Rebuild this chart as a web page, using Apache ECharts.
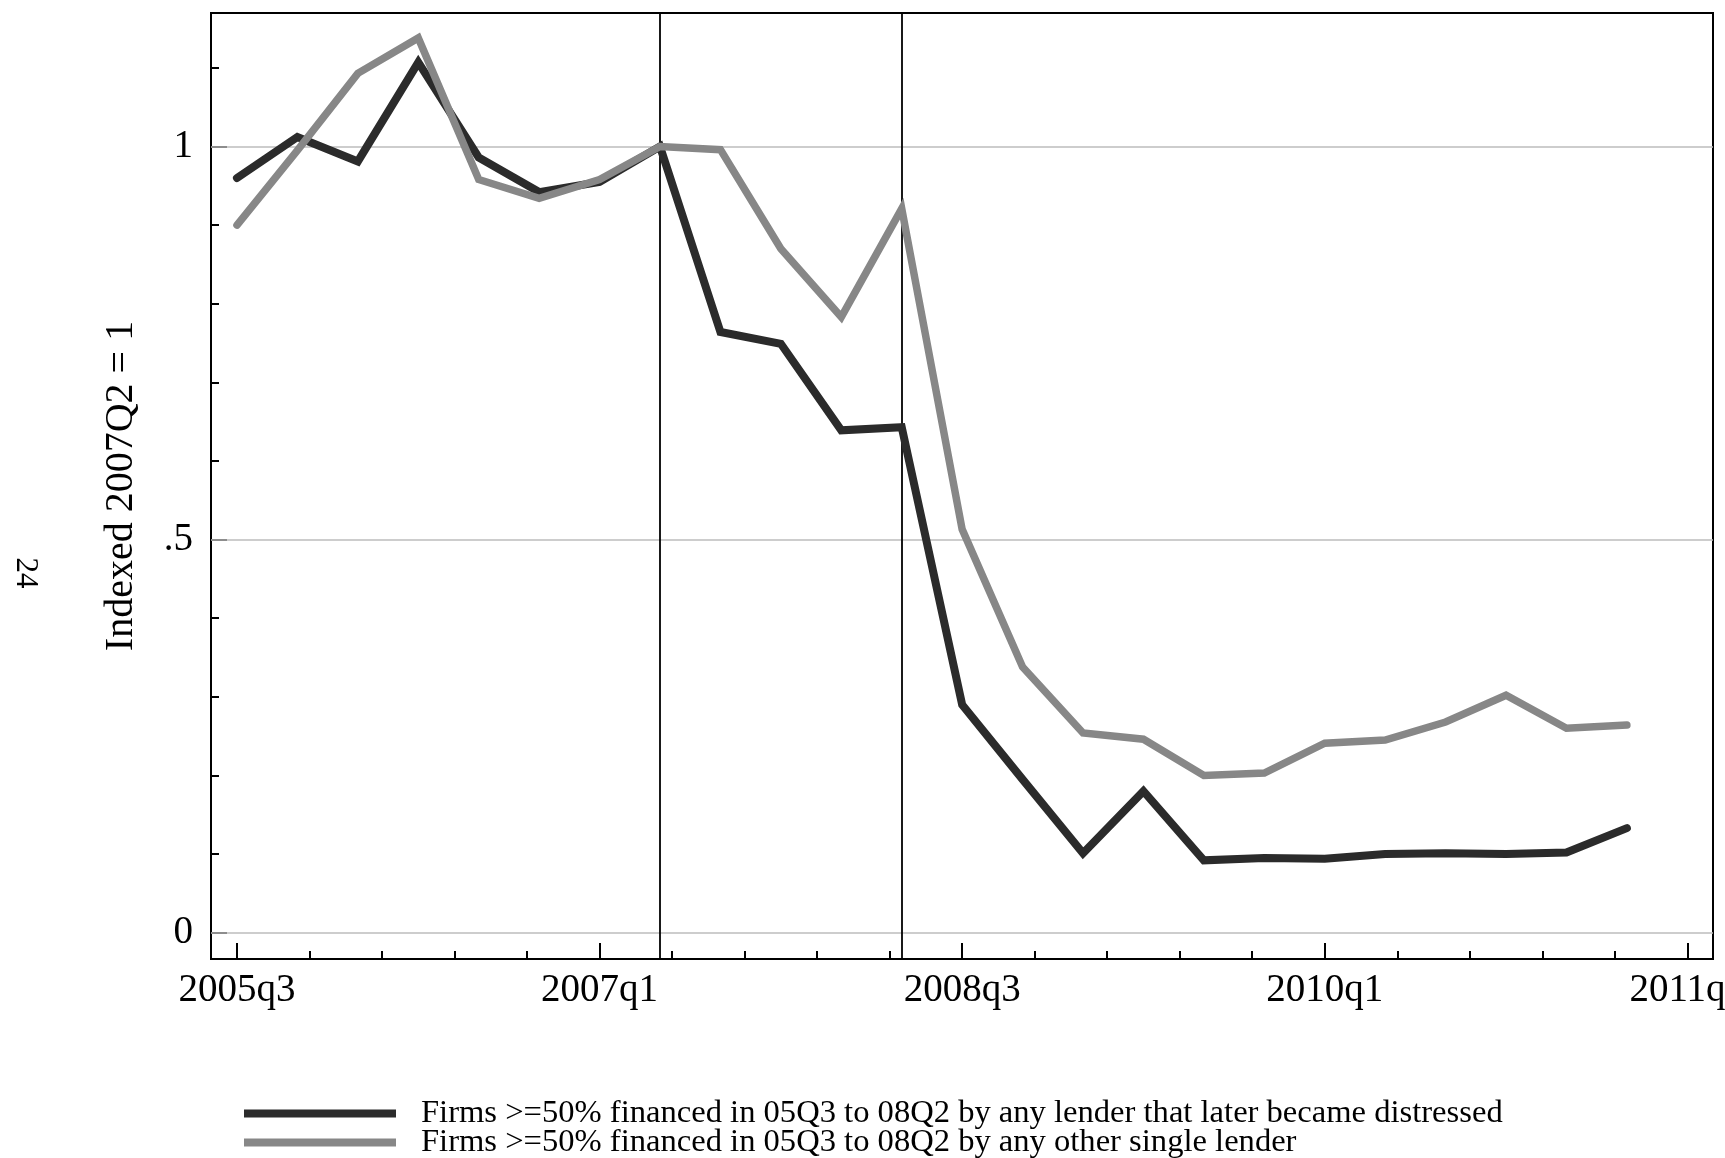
<!DOCTYPE html>
<html>
<head>
<meta charset="utf-8">
<title>Indexed 2007Q2 = 1</title>
<script src="https://cdn.jsdelivr.net/npm/echarts@6/dist/echarts.min.js"></script>
<style>
  html, body { margin: 0; padding: 0; background: #fff; }
  #chart { width: 1725px; height: 1158px; }
</style>
</head>
<body>
<div id="chart"></div>
<script>
// quarters 2005q3 .. 2011q2, one point each
const quarters = [
  '2005q3', '2005q4',
  '2006q1', '2006q2', '2006q3', '2006q4',
  '2007q1', '2007q2', '2007q3', '2007q4',
  '2008q1', '2008q2', '2008q3', '2008q4',
  '2009q1', '2009q2', '2009q3', '2009q4',
  '2010q1', '2010q2', '2010q3', '2010q4',
  '2011q1', '2011q2'
]
const distressed = [
  0.960, 1.012, 0.981, 1.107, 0.986, 0.942, 0.955, 1.000,
  0.764, 0.749, 0.639, 0.643, 0.290, 0.195, 0.101, 0.180,
  0.092, 0.095, 0.094, 0.100, 0.101, 0.100, 0.102, 0.133
]
const otherLender = [
  0.900, 0.995, 1.093, 1.138, 0.958, 0.934, 0.958, 1.000,
  0.996, 0.870, 0.783, 0.921, 0.513, 0.338, 0.254, 0.246,
  0.200, 0.203, 0.241, 0.245, 0.268, 0.302, 0.260, 0.264
]
const seriesNames = [
  'Firms >=50% financed in 05Q3 to 08Q2 by any lender that later became distressed',
  'Firms >=50% financed in 05Q3 to 08Q2 by any other single lender'
]
const eventQuarters = ['2007q2', '2008q2']

// axis ticks (x in quarters since 2005q3)
const xTickValues = [0, 6, 12, 18, 24]
const xTickLabels = ['2005q3', '2007q1', '2008q3', '2010q1', '2011q3']
const xMinorTicks = [1.2, 2.4, 3.6, 4.8, 7.2, 8.4, 9.6, 10.8, 13.2, 14.4, 15.6, 16.8, 19.2, 20.4, 21.6, 22.8]
const yTickValues = [0, 0.5, 1]
const yTickLabels = ['0', '.5', '1']
const yMinorTicks = [0.1, 0.2, 0.3, 0.4, 0.6, 0.7, 0.8, 0.9, 1.1]

const FONT = '"Liberation Serif", "Times New Roman", serif'
const X_RANGE = [-0.43, 24.425]
const Y_RANGE = [-0.0335, 1.1698]

const chart = echarts.init(document.getElementById('chart'))

const toPoints = (values) => values.map((v, i) => [i, v])

const tickStyle = { color: '#000', width: 2 }

const option = {
  animation: false,
  backgroundColor: '#fff',
  grid: {
    left: 211,
    right: 12,
    top: 13,
    bottom: 199,
    containLabel: false,
    outerBoundsMode: 'none',
    show: true,
    borderColor: '#000',
    borderWidth: 2
  },
  xAxis: [
    {
      type: 'value',
      min: X_RANGE[0],
      max: X_RANGE[1],
      position: 'bottom',
      axisLine: { show: false, onZero: false },
      splitLine: { show: false },
      axisTick: { inside: true, length: 16, customValues: xTickValues, lineStyle: tickStyle },
      axisLabel: {
        customValues: xTickValues,
        formatter: (v) => xTickLabels[xTickValues.indexOf(v)] || '',
        color: '#000',
        fontFamily: FONT,
        fontSize: 39,
        margin: 12
      }
    },
    {
      type: 'value',
      min: X_RANGE[0],
      max: X_RANGE[1],
      position: 'bottom',
      axisLine: { show: false, onZero: false },
      splitLine: { show: false },
      axisLabel: { show: false },
      axisTick: { inside: true, length: 8, customValues: xMinorTicks, lineStyle: tickStyle }
    }
  ],
  yAxis: [
    {
      type: 'value',
      min: Y_RANGE[0],
      max: Y_RANGE[1],
      position: 'left',
      name: 'Indexed 2007Q2 = 1',
      nameLocation: 'middle',
      nameGap: 70,
      nameTextStyle: { color: '#000', fontFamily: FONT, fontSize: 40 },
      axisLine: { show: false, onZero: false },
      splitLine: { show: false },
      axisTick: { inside: true, length: 16, customValues: yTickValues, lineStyle: tickStyle },
      axisLabel: {
        customValues: yTickValues,
        formatter: (v) => yTickLabels[yTickValues.indexOf(v)] || '',
        color: '#000',
        fontFamily: FONT,
        fontSize: 39,
        margin: 18
      }
    },
    {
      type: 'value',
      min: Y_RANGE[0],
      max: Y_RANGE[1],
      position: 'left',
      axisLine: { show: false, onZero: false },
      splitLine: { show: false },
      axisLabel: { show: false },
      axisTick: { inside: true, length: 8, customValues: yMinorTicks, lineStyle: tickStyle }
    }
  ],
  legend: {
    orient: 'vertical',
    left: 244,
    top: 1097,
    width: 1400,
    height: 120,
    padding: 0,
    itemWidth: 152,
    itemHeight: 8,
    itemGap: -4,
    icon: 'rect',
    data: seriesNames,
    textStyle: {
      color: '#000',
      fontFamily: FONT,
      fontSize: 32.6,
      lineHeight: 28,
      padding: [0, 0, 0, 20]
    }
  },
  graphic: [
    {
      type: 'text',
      x: 25,
      y: 573,
      rotation: -Math.PI / 2,
      style: {
        text: '24',
        fill: '#000',
        font: '31px ' + FONT,
        align: 'center',
        verticalAlign: 'middle'
      }
    }
  ],
  series: [
    {
      // grid lines and the two event lines
      type: 'line',
      data: [],
      z: 1,
      silent: true,
      markLine: {
        silent: true,
        symbol: 'none',
        label: { show: false },
        z: 1,
        data: [
          ...yTickValues.map((v) => ({ yAxis: v, lineStyle: { color: '#bdbdbd', width: 1.5, type: 'solid' } })),
          ...eventQuarters.map((q) => ({ xAxis: quarters.indexOf(q), lineStyle: { color: '#000', width: 1.8, type: 'solid' } }))
        ]
      }
    },
    {
      name: seriesNames[0],
      type: 'line',
      data: toPoints(distressed),
      showSymbol: false,
      color: '#2b2b2b',
      z: 3,
      lineStyle: { color: '#2b2b2b', width: 8, cap: 'round', join: 'miter' }
    },
    {
      name: seriesNames[1],
      type: 'line',
      data: toPoints(otherLender),
      showSymbol: false,
      color: '#878787',
      z: 4,
      lineStyle: { color: '#878787', width: 7.5, cap: 'round', join: 'miter' }
    }
  ]
}

chart.setOption(option)
</script>
</body>
</html>
